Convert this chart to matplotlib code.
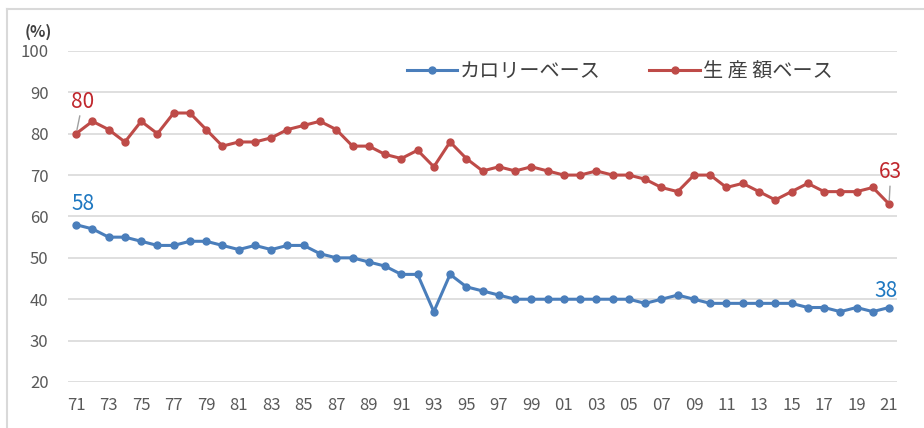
import matplotlib.pyplot as plt
from matplotlib.lines import Line2D

plt.rcParams['font.family'] = ['Noto Sans CJK JP', 'DejaVu Sans']

# 年度 (1971-2021)
years = list(range(1971, 2022))
tick_labels = [f"{y % 100:02d}" for y in years[::2]]

# カロリーベース食料自給率 (%)
calorie = [58, 57, 55, 55, 54, 53, 53, 54, 54, 53,
           52, 53, 52, 53, 53, 51, 50, 50, 49, 48,
           46, 46, 37, 46, 43, 42, 41, 40, 40, 40,
           40, 40, 40, 40, 40, 39, 40, 41, 40, 39,
           39, 39, 39, 39, 39, 38, 38, 37, 38, 37, 38]

# 生産額ベース食料自給率 (%)
production = [80, 83, 81, 78, 83, 80, 85, 85, 81, 77,
              78, 78, 79, 81, 82, 83, 81, 77, 77, 75,
              74, 76, 72, 78, 74, 71, 72, 71, 72, 71,
              70, 70, 71, 70, 70, 69, 67, 66, 70, 70,
              67, 68, 66, 64, 66, 68, 66, 66, 66, 67, 63]

BLUE = '#4a7ebb'
RED = '#be4b48'

fig = plt.figure(figsize=(9.24, 4.28), dpi=100)
ax = fig.add_axes([0.0736, 0.1075, 0.8974, 0.7735])

x = list(range(len(years)))
ax.plot(x, calorie, color=BLUE, lw=2.2, marker='o', ms=5, label='カロリーベース')
ax.plot(x, production, color=RED, lw=2.2, marker='o', ms=5, label='生 産 額ベース')

ax.set_xlim(-0.5, len(years) - 0.5)
ax.set_ylim(20, 100)
ax.set_yticks(range(20, 101, 10))
ax.set_xticks(x[::2])
ax.set_xticklabels(tick_labels)
ax.grid(axis='y', color='#d9d9d9', lw=1.2)
ax.set_axisbelow(True)
for s in ax.spines.values():
    s.set_visible(False)
ax.tick_params(length=0, labelsize=12, colors='#595959', pad=11)
ax.tick_params(axis='y', pad=14)

# 端点ラベル
def end_label(i, vals, color, dx, dy):
    ax.annotate(str(vals[i]), xy=(x[i], vals[i]), xytext=(x[i] + dx, vals[i] + dy),
                color=color, fontsize=15, ha='center', va='bottom',
                arrowprops=dict(arrowstyle='-', color='#a0a0a0', lw=1, shrinkA=0, shrinkB=3))

end_label(0, production, '#c0272d', 0.4, 5.0)
end_label(len(years) - 1, production, '#c0272d', 0.1, 5.0)
ax.annotate(str(calorie[0]), xy=(x[0], calorie[0]), xytext=(x[0] + 0.4, calorie[0] + 2.3),
            color='#1f78c1', fontsize=15, ha='center', va='bottom')
ax.annotate(str(calorie[-1]), xy=(x[-1], calorie[-1]), xytext=(x[-1] - 0.2, calorie[-1] + 1.4),
            color='#1f78c1', fontsize=15, ha='center', va='bottom')

ax.legend(loc='center right', bbox_to_anchor=(0.922, 0.937), ncol=2, frameon=False,
          fontsize=14.5, labelcolor='#404040', handlelength=2.5, columnspacing=2.4,
          handletextpad=0.15, borderaxespad=0, borderpad=0)

fig.text(0.027, 0.915, '(%)', fontsize=11.5, fontweight='bold', color='#404040')

# 外枠
fig.add_artist(Line2D([0.0076, 1.0], [0.979, 0.979], color='#d9d9d9', lw=1.5))
fig.add_artist(Line2D([0.0076, 0.0076], [0.0, 0.979], color='#d9d9d9', lw=1.5))

fig.savefig('out.png', dpi=100)
